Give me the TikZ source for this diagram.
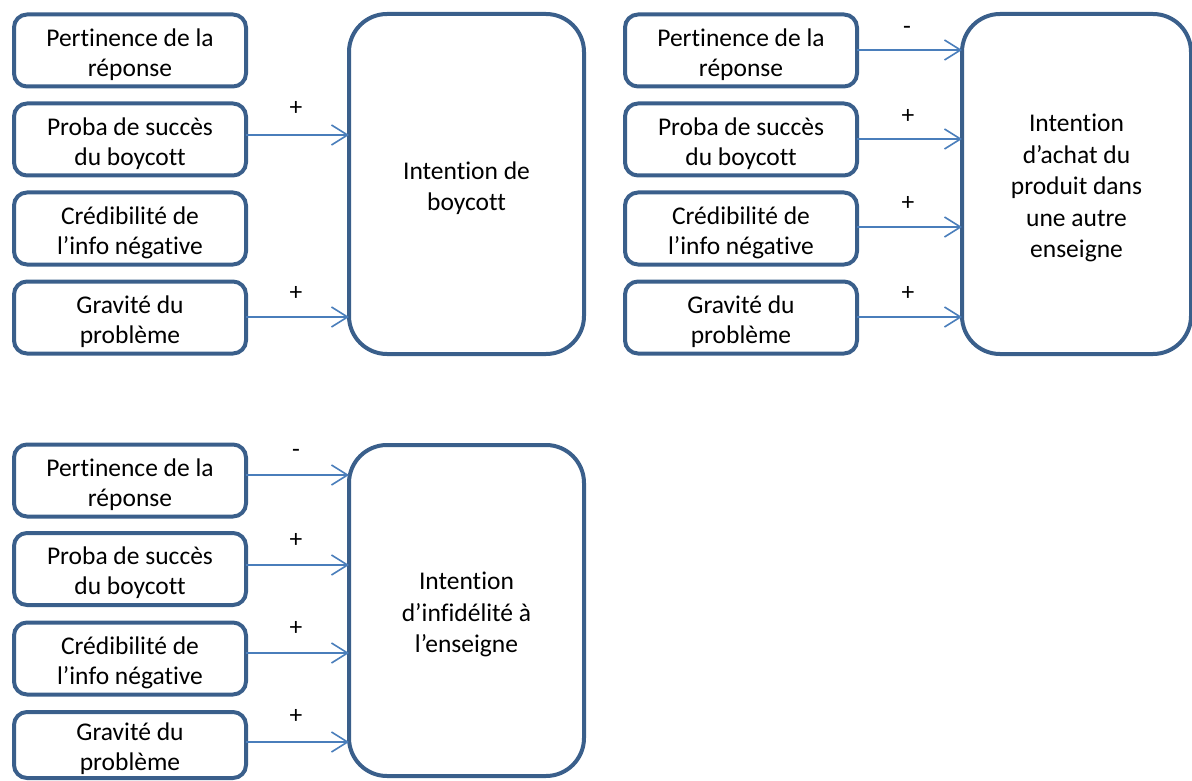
\documentclass[tikz,border=0pt]{standalone}
\usepackage{fontspec}
\setmainfont{Carlito}[Ligatures=NoCommon,RawFeature={-liga;-clig;-dlig}]
\usetikzlibrary{arrows.meta}
\definecolor{bordc}{HTML}{3A5F8B}
\definecolor{arrc}{HTML}{4A7EBB}
\newcommand\diagfont{\fontsize{25.5}{30}\selectfont}
\newcommand\bigdiagfont{\fontsize{25.5}{31.5}\selectfont}
\newcommand\topstrut{\rule{0pt}{26pt}}
\tikzset{
  smallbox/.style={draw=bordc, line width=4pt, rounded corners=13pt, minimum width=232pt,
    minimum height=72pt, align=center, inner sep=0pt, outer sep=0pt, font=\diagfont},
  bigbox/.style={draw=bordc, line width=4pt, rounded corners=38pt, align=center,
    inner sep=0pt, outer sep=0pt, font=\bigdiagfont},
  link/.style={draw=arrc, line width=1.6pt, -{Straight Barb[length=16pt,width=20pt]}},
  sign/.style={font=\diagfont, inner sep=0pt}
}
\begin{document}
\begin{tikzpicture}[x=1pt,y=-1pt]
\useasboundingbox (0,0) rectangle (1192,781);
% top-left group
\node[smallbox] (a1) at (130,50.5) {\topstrut Pertinence de la\\réponse};
\node[smallbox] (a2) at (130,139.5) {\topstrut Proba de succès\\du boycott};
\node[smallbox] (a3) at (130,228.5) {\topstrut Crédibilité de\\l’info négative};
\node[smallbox] (a4) at (130,317.5) {\topstrut Gravité du\\problème};
\node[bigbox, minimum width=235pt, minimum height=340pt] (A) at (466.5,184) {\topstrut Intention de\\boycott};
\draw[link] (a2.east |- 0,135) -- (A.west |- 0,135);
\draw[link] (a4.east |- 0,317) -- (A.west |- 0,317);
\node[sign] (pa2) at (296,108) {+};
\node[sign] (pa4) at (296,293) {+};
% top-right group
\node[smallbox] (b1) at (741,50.5) {\topstrut Pertinence de la\\réponse};
\node[smallbox] (b2) at (741,139.5) {\topstrut Proba de succès\\du boycott};
\node[smallbox] (b3) at (741,228.5) {\topstrut Crédibilité de\\l’info négative};
\node[smallbox] (b4) at (741,317.5) {\topstrut Gravité du\\problème};
\node[bigbox, minimum width=229pt, minimum height=340pt] (B) at (1076.5,184) {\topstrut Intention\\d’achat du\\produit dans\\une autre\\enseigne};
\draw[link] (b1.east |- 0,50) -- (B.west |- 0,50);
\draw[link] (b2.east |- 0,139) -- (B.west |- 0,139);
\draw[link] (b3.east |- 0,227) -- (B.west |- 0,227);
\draw[link] (b4.east |- 0,317) -- (B.west |- 0,317);
\node[sign] (pb1) at (907,30) {-};
\node[sign] (pb2) at (908,116) {+};
\node[sign] (pb3) at (908,203) {+};
\node[sign] (pb4) at (908,293) {+};
% bottom group
\node[smallbox] (c1) at (130,480.5) {\topstrut Pertinence de la\\réponse};
\node[smallbox] (c2) at (130,569) {\topstrut Proba de succès\\du boycott};
\node[smallbox] (c3) at (130,658.5) {\topstrut Crédibilité de\\l’info négative};
\node[smallbox, minimum height=66pt] (c4) at (130,745) {\topstrut Gravité du\\problème};
\node[bigbox, minimum width=235pt, minimum height=331pt] (C) at (466.5,610.5) {\topstrut Intention\\d’infidélité à\\l’enseigne};
\draw[link] (c1.east |- 0,475) -- (C.west |- 0,475);
\draw[link] (c2.east |- 0,565) -- (C.west |- 0,565);
\draw[link] (c3.east |- 0,653) -- (C.west |- 0,653);
\draw[link] (c4.east |- 0,742) -- (C.west |- 0,742);
\node[sign] (pc1) at (296,453) {-};
\node[sign] (pc2) at (296,540) {+};
\node[sign] (pc3) at (296,628) {+};
\node[sign] (pc4) at (296,716) {+};
\end{tikzpicture}
\end{document}
